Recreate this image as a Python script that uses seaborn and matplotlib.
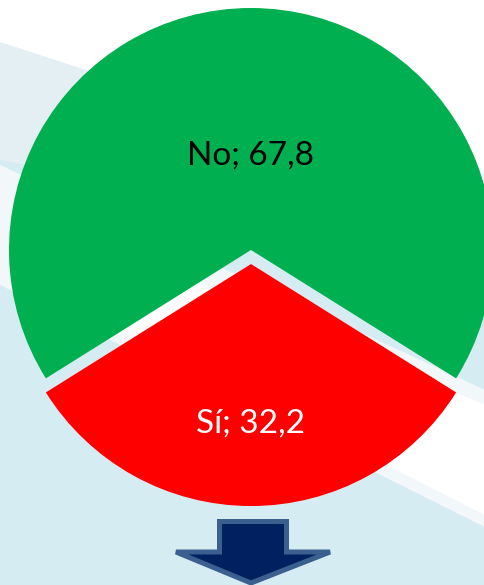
import matplotlib
matplotlib.use("Agg")
import matplotlib.pyplot as plt
from matplotlib.patches import Polygon
import numpy as np
import seaborn as sns

# Data
labels = ["No", "Sí"]
values = [67.8, 32.2]
value_text = ["67,8", "32,2"]

sns.set_theme(style="white")
plt.rcParams['font.family'] = ['Lato', 'DejaVu Sans']
colors = ["#00b050", "#ff0000"]
text_colors = ["black", "white"]

W, H = 485, 585
fig = plt.figure(figsize=(W / 100, H / 100), dpi=100)
fig.patch.set_facecolor("#d6ecf3")

# background swooshes (pixel coords, y down)
bg = fig.add_axes([0, 0, 1, 1])
bg.set_xlim(0, W)
bg.set_ylim(H, 0)
bg.axis("off")
bg.add_patch(Polygon([(0, 0), (W, 0), (W, 250), (0, 160)], closed=True,
                     facecolor="#e4eff3", edgecolor="none"))
bg.add_patch(Polygon([(0, 0), (W, 0), (W, 200), (0, 42)], closed=True,
                     facecolor="white", edgecolor="none"))
bg.add_patch(Polygon([(0, 165), (W, 390), (W, 527), (0, 285)], closed=True,
                     facecolor="#f2f8fa", edgecolor="none"))
bg.add_patch(Polygon([(120, 250), (W, 405), (W, 515), (120, 330)], closed=True,
                     facecolor="white", edgecolor="none"))

# arrow
arrow = [(219.5, 521.5), (286.5, 521.5), (286.5, 552), (330, 552), (251, 583),
         (176, 552), (219.5, 552)]
bg.add_patch(Polygon(arrow, closed=True, facecolor="#002060",
                     edgecolor="#3b5f8f", linewidth=3.6, joinstyle="miter"))

# pie
ax = fig.add_axes([0, 0, 1, 1])
ax.patch.set_alpha(0)
R = 242
cx, cy = 251, 335
start = 90 - values[0] * 3.6 / 2
wedges, _ = ax.pie(values, colors=colors, startangle=start,
                   explode=[0, 0.058], radius=1,
                   wedgeprops=dict(edgecolor="none"))
ax.set_xlim(-cx / R, (W - cx) / R)
ax.set_ylim(-cy / R, (H - cy) / R)
ax.set_aspect("auto")
ax.axis("off")

label_dist = [0.39, 0.66]
for w, lab, vt, tc, d in zip(wedges, labels, value_text, text_colors, label_dist):
    mid = np.deg2rad((w.theta1 + w.theta2) / 2)
    x0, y0 = w.center
    ax.text(x0 + d * np.cos(mid), y0 + d * np.sin(mid), f"{lab}; {vt}",
            ha="center", va="center", fontsize=24, color=tc)

fig.savefig("out.png", dpi=100)
